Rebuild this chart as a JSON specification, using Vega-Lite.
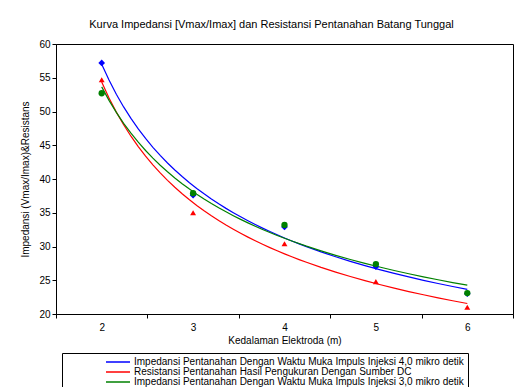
{
  "$schema": "https://vega.github.io/schema/vega-lite/v6.json",
  "width": 457,
  "height": 270,
  "autosize": {"type": "none"},
  "padding": {"left": 56, "top": 44, "right": 15, "bottom": 73},
  "title": {"text": "Kurva Impedansi [Vmax/Imax] dan Resistansi Pentanahan Batang Tunggal", "fontSize": 11, "fontWeight": "normal", "font": "Liberation Sans", "color": "black", "offset": 9, "dx": -13},
  "data": {"values": [
    {"seri": "Impedansi Pentanahan Dengan Waktu Muka Impuls Injeksi 4,0 mikro detik", "kedalaman": 2, "urutan": 1, "nilai": 57.2},
    {"seri": "Impedansi Pentanahan Dengan Waktu Muka Impuls Injeksi 4,0 mikro detik", "kedalaman": 3, "urutan": 2, "nilai": 37.6},
    {"seri": "Impedansi Pentanahan Dengan Waktu Muka Impuls Injeksi 4,0 mikro detik", "kedalaman": 4, "urutan": 3, "nilai": 32.9},
    {"seri": "Impedansi Pentanahan Dengan Waktu Muka Impuls Injeksi 4,0 mikro detik", "kedalaman": 5, "urutan": 4, "nilai": 27.0},
    {"seri": "Impedansi Pentanahan Dengan Waktu Muka Impuls Injeksi 4,0 mikro detik", "kedalaman": 6, "urutan": 5, "nilai": 23.0},
    {"seri": "Resistansi Pentanahan Hasil Pengukuran Dengan Sumber DC", "kedalaman": 2, "urutan": 1, "nilai": 54.7},
    {"seri": "Resistansi Pentanahan Hasil Pengukuran Dengan Sumber DC", "kedalaman": 3, "urutan": 2, "nilai": 35.0},
    {"seri": "Resistansi Pentanahan Hasil Pengukuran Dengan Sumber DC", "kedalaman": 4, "urutan": 3, "nilai": 30.4},
    {"seri": "Resistansi Pentanahan Hasil Pengukuran Dengan Sumber DC", "kedalaman": 5, "urutan": 4, "nilai": 24.8},
    {"seri": "Resistansi Pentanahan Hasil Pengukuran Dengan Sumber DC", "kedalaman": 6, "urutan": 5, "nilai": 21.0},
    {"seri": "Impedansi Pentanahan Dengan Waktu Muka Impuls Injeksi 3,0 mikro detik", "kedalaman": 2, "urutan": 1, "nilai": 52.7},
    {"seri": "Impedansi Pentanahan Dengan Waktu Muka Impuls Injeksi 3,0 mikro detik", "kedalaman": 3, "urutan": 2, "nilai": 37.9},
    {"seri": "Impedansi Pentanahan Dengan Waktu Muka Impuls Injeksi 3,0 mikro detik", "kedalaman": 4, "urutan": 3, "nilai": 33.2},
    {"seri": "Impedansi Pentanahan Dengan Waktu Muka Impuls Injeksi 3,0 mikro detik", "kedalaman": 5, "urutan": 4, "nilai": 27.4},
    {"seri": "Impedansi Pentanahan Dengan Waktu Muka Impuls Injeksi 3,0 mikro detik", "kedalaman": 6, "urutan": 5, "nilai": 23.1}
  ]},
  "encoding": {
    "y": {"field": "nilai", "type": "quantitative", "scale": {"domain": [20, 60], "nice": false, "zero": false},
          "axis": {"title": "Impedansi (Vmax/Imax)&Resistans", "values": [20, 25, 30, 35, 40, 45, 50, 55, 60], "titlePadding": 8, "labelOverlap": false}},
    "color": {"field": "seri", "type": "nominal",
      "scale": {"domain": ["Impedansi Pentanahan Dengan Waktu Muka Impuls Injeksi 4,0 mikro detik", "Resistansi Pentanahan Hasil Pengukuran Dengan Sumber DC", "Impedansi Pentanahan Dengan Waktu Muka Impuls Injeksi 3,0 mikro detik"], "range": ["#0000FF", "#FF0000", "#008000"]}}
  },
  "layer": [
    {
      "transform": [{"regression": "nilai", "on": "urutan", "groupby": ["seri"], "method": "pow", "extent": [1, 5]}],
      "mark": {"type": "line", "strokeWidth": 1.2, "clip": true},
      "encoding": {
        "x": {"field": "urutan", "type": "quantitative", "scale": {"domain": [0.5, 5.5], "nice": false, "zero": false}, "axis": null}
      }
    },
    {
      "encoding": {
        "x": {"field": "kedalaman", "type": "ordinal", "bandPosition": 0.5, "scale": {"type": "band", "paddingInner": 0, "paddingOuter": 0},
              "axis": {"title": "Kedalaman Elektroda (m)", "labelAngle": 0, "tickBand": "extent", "labelPadding": 4, "titlePadding": 3}}
      },
      "layer": [
        {
          "transform": [{"filter": "datum.seri === 'Impedansi Pentanahan Dengan Waktu Muka Impuls Injeksi 4,0 mikro detik'"}],
          "mark": {"type": "point", "shape": "diamond", "filled": true, "opacity": 1, "size": 45}
        },
        {
          "transform": [{"filter": "datum.seri === 'Resistansi Pentanahan Hasil Pengukuran Dengan Sumber DC'"}],
          "mark": {"type": "point", "shape": "triangle-up", "filled": true, "opacity": 1, "size": 35}
        },
        {
          "transform": [{"filter": "datum.seri === 'Impedansi Pentanahan Dengan Waktu Muka Impuls Injeksi 3,0 mikro detik'"}],
          "mark": {"type": "point", "shape": "circle", "filled": true, "opacity": 1, "size": 40}
        }
      ]
    }
  ],
  "resolve": {"scale": {"x": "independent"}, "axis": {"x": "independent"}},
  "config": {
    "font": "Liberation Sans",
    "background": "white",
    "view": {"stroke": "black", "strokeWidth": 1},
    "axis": {"grid": false, "domainColor": "black", "tickColor": "black", "labelColor": "black", "titleColor": "black",
             "labelFontSize": 10, "titleFontSize": 10, "titleFontWeight": "normal", "tickSize": 4,
             "labelFont": "Liberation Sans", "titleFont": "Liberation Sans"},
    "legend": {"title": null, "orient": "none", "legendX": 6, "legendY": 309, "strokeColor": "black", "fillColor": "white", "padding": 4,
               "symbolType": "M-3,0H3", "symbolSize": 64, "symbolStrokeWidth": 1.5, "symbolOffset": 47, "labelOffset": 11,
               "labelFontSize": 10, "labelColor": "black", "labelFont": "Liberation Sans", "rowPadding": 0, "labelLimit": 0}
  }
}
